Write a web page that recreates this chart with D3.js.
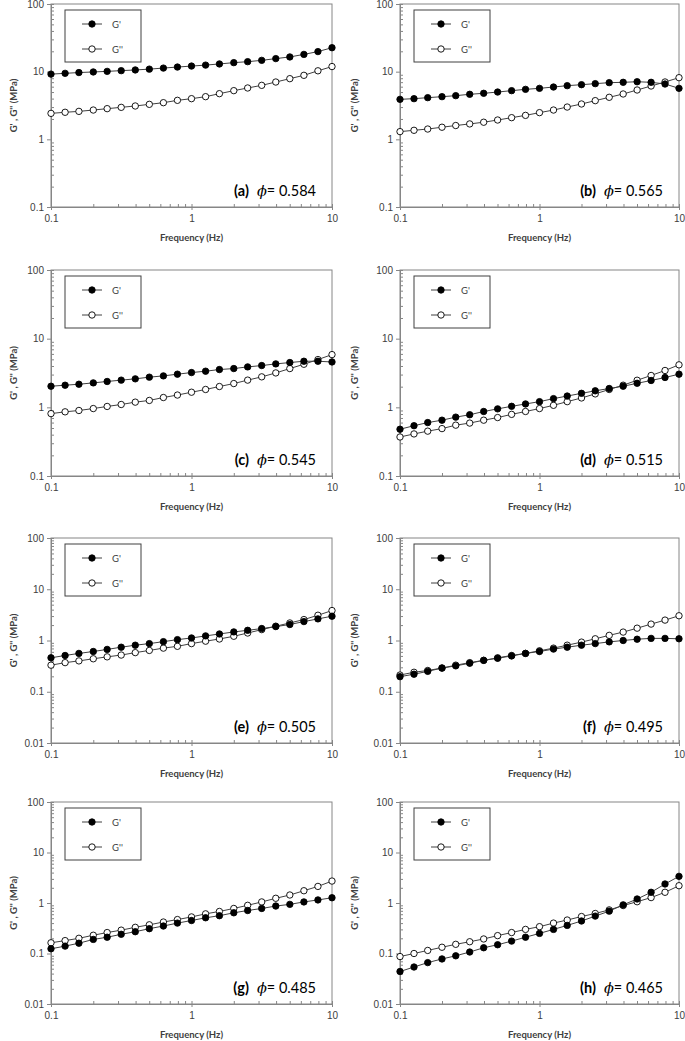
<!DOCTYPE html>
<html>
<head>
<meta charset="utf-8">
<script src="https://cdn.jsdelivr.net/npm/d3@7"></script>
<style>
  body { margin: 0; background: #fff; }
  svg { display: block; font-family: Lato, "Open Sans", sans-serif; }
</style>
</head>
<body>
<svg id="chart" width="685" height="1041"></svg>
<script>
// frequency sweep (Hz), 10 points per decade
const freq = [0.1, 0.126, 0.158, 0.2, 0.251, 0.316, 0.398, 0.501, 0.631, 0.794, 1,
              1.26, 1.58, 2, 2.51, 3.16, 3.98, 5.01, 6.31, 7.94, 10];

const gp_a  = [9.2, 9.45, 9.7, 9.9, 10.1, 10.35, 10.6, 10.9, 11.3, 11.7, 12.1, 12.5, 13.0, 13.6, 14.05, 14.7, 15.6, 16.5, 18.0, 19.8, 22.6];
const gpp_a = [2.42, 2.51, 2.59, 2.71, 2.84, 2.97, 3.11, 3.29, 3.48, 3.77, 3.99, 4.27, 4.73, 5.24, 5.74, 6.28, 7.03, 7.88, 8.83, 10.3, 11.9];

const gp_b  = [3.9, 3.99, 4.13, 4.27, 4.42, 4.63, 4.79, 5.0, 5.24, 5.48, 5.67, 5.93, 6.21, 6.42, 6.65, 6.88, 6.96, 7.1, 6.96, 6.57, 5.67];
const gpp_b = [1.30, 1.36, 1.42, 1.51, 1.60, 1.69, 1.79, 1.93, 2.09, 2.26, 2.48, 2.71, 3.00, 3.33, 3.73, 4.18, 4.68, 5.36, 6.14, 7.04, 8.15];

const gp_c  = [2.03, 2.10, 2.17, 2.27, 2.38, 2.49, 2.60, 2.75, 2.87, 3.04, 3.21, 3.36, 3.55, 3.67, 3.88, 4.06, 4.29, 4.49, 4.69, 4.69, 4.58];
const gpp_c = [0.81, 0.86, 0.90, 0.96, 1.03, 1.10, 1.19, 1.26, 1.39, 1.51, 1.66, 1.82, 2.01, 2.22, 2.49, 2.78, 3.17, 3.67, 4.24, 4.96, 5.86];

const gp_d  = [0.48, 0.54, 0.60, 0.65, 0.72, 0.78, 0.87, 0.95, 1.035, 1.12, 1.21, 1.34, 1.46, 1.60, 1.74, 1.88, 2.03, 2.24, 2.46, 2.72, 3.04];
const gpp_d = [0.37, 0.41, 0.45, 0.49, 0.55, 0.59, 0.65, 0.71, 0.79, 0.87, 0.96, 1.07, 1.21, 1.37, 1.57, 1.82, 2.10, 2.48, 2.91, 3.44, 4.16];

const gp_e  = [0.46, 0.51, 0.56, 0.61, 0.67, 0.74, 0.81, 0.87, 0.95, 1.04, 1.12, 1.23, 1.34, 1.47, 1.58, 1.71, 1.87, 2.05, 2.34, 2.64, 2.98];
const gpp_e = [0.33, 0.37, 0.40, 0.44, 0.48, 0.52, 0.58, 0.64, 0.71, 0.77, 0.87, 0.97, 1.07, 1.21, 1.40, 1.63, 1.90, 2.20, 2.56, 3.11, 3.84];

const gp_f  = [0.197, 0.22, 0.25, 0.29, 0.32, 0.36, 0.41, 0.45, 0.50, 0.56, 0.61, 0.68, 0.74, 0.81, 0.87, 0.94, 1.00, 1.06, 1.10, 1.10, 1.08];
const gpp_f = [0.212, 0.24, 0.26, 0.29, 0.33, 0.37, 0.41, 0.46, 0.51, 0.56, 0.63, 0.71, 0.81, 0.93, 1.08, 1.26, 1.46, 1.74, 2.09, 2.50, 3.04];

const gp_g  = [0.124, 0.14, 0.16, 0.19, 0.21, 0.24, 0.27, 0.31, 0.35, 0.40, 0.45, 0.51, 0.56, 0.64, 0.71, 0.78, 0.87, 0.94, 1.05, 1.15, 1.27];
const gpp_g = [0.163, 0.18, 0.20, 0.23, 0.26, 0.29, 0.33, 0.37, 0.42, 0.47, 0.53, 0.61, 0.68, 0.78, 0.90, 1.05, 1.24, 1.44, 1.75, 2.13, 2.72];

const gp_h  = [0.044, 0.054, 0.066, 0.078, 0.090, 0.107, 0.13, 0.149, 0.176, 0.21, 0.25, 0.30, 0.36, 0.44, 0.55, 0.69, 0.92, 1.20, 1.63, 2.38, 3.37];
const gpp_h = [0.087, 0.10, 0.115, 0.133, 0.152, 0.171, 0.194, 0.226, 0.26, 0.30, 0.34, 0.40, 0.46, 0.54, 0.62, 0.73, 0.89, 1.06, 1.28, 1.63, 2.2];

const panelLetters = ["a", "b", "c", "d", "e", "f", "g", "h"];
const phiValues = ["0.584", "0.565", "0.545", "0.515", "0.505", "0.495", "0.485", "0.465"];
const storage = [gp_a, gp_b, gp_c, gp_d, gp_e, gp_f, gp_g, gp_h];
const loss = [gpp_a, gpp_b, gpp_c, gpp_d, gpp_e, gpp_f, gpp_g, gpp_h];
const seriesNames = ["G'", "G''"];
const xTicks = [0.1, 1, 10];
const xTickLabels = ["0.1", "1", "10"];
const yTicksTop = [0.1, 1, 10, 100];
const yTicksBottom = [0.01, 0.1, 1, 10, 100];

// layout of the 4x2 grid
const colLeft = [51, 400];
const colWidth = [281, 279];
const colTitleX = [13, 354];
const rowTop = [4, 270, 538, 802];
const rowHeight = [203, 206, 205, 202];

const axisColor = "#868686";
const textColor = "#404040";

const svg = d3.select("#chart");

function minorTicks(lo, hi) {
  const out = [];
  for (let e = Math.round(Math.log10(lo)); e < Math.round(Math.log10(hi)); e++) {
    for (let k = 2; k <= 9; k++) out.push(k * Math.pow(10, e));
  }
  return out;
}

panelLetters.forEach((letter, i) => {
  const col = i % 2, row = Math.floor(i / 2);
  const left = colLeft[col], top = rowTop[row];
  const w = colWidth[col], h = rowHeight[row];
  const yTicks = row < 2 ? yTicksTop : yTicksBottom;
  const ydom = [yTicks[0], yTicks[yTicks.length - 1]];

  const x = d3.scaleLog().domain([0.1, 10]).range([0, w]);
  const y = d3.scaleLog().domain(ydom).range([h, 0]);

  const g = svg.append("g").attr("transform", `translate(${left},${top})`);

  // plot-area frame
  g.append("rect").attr("width", w).attr("height", h)
    .attr("fill", "none").attr("stroke", axisColor).attr("stroke-width", 1);

  // x axis: major ticks cross, minor ticks inside
  const xMajor = g.append("g").attr("transform", `translate(0,${h})`)
    .call(d3.axisBottom(x).tickValues(xTicks).tickSize(3).tickPadding(5)
      .tickFormat((d, j) => xTickLabels[j]));
  xMajor.append("g").call(d3.axisBottom(x).tickValues(xTicks).tickSize(-3).tickFormat(""));
  xMajor.append("g").call(d3.axisBottom(x).tickValues(minorTicks(0.1, 10)).tickSize(-3).tickFormat(""));

  // y axis: major ticks outside, minor ticks inside
  const yMajor = g.append("g")
    .call(d3.axisLeft(y).tickValues(yTicks).tickSize(4).tickPadding(3)
      .tickFormat(d => d3.format("~g")(d)));
  yMajor.append("g").call(d3.axisLeft(y).tickValues(minorTicks(ydom[0], ydom[1])).tickSize(-3).tickFormat(""));

  g.selectAll(".domain").attr("stroke", axisColor);
  g.selectAll(".tick line").attr("stroke", axisColor);
  g.selectAll(".tick text").attr("fill", textColor).attr("font-size", 10);

  // axis titles
  g.append("text").attr("x", w / 2).attr("y", h + 34)
    .attr("text-anchor", "middle").attr("font-size", 9.5).attr("font-weight", "bold")
    .attr("fill", textColor).text("Frequency (Hz)");
  g.append("text")
    .attr("transform", `translate(${colTitleX[col] - left},${h / 2}) rotate(-90)`)
    .attr("text-anchor", "middle").attr("dominant-baseline", "central")
    .attr("font-size", 9.5).attr("font-weight", "bold")
    .attr("fill", textColor).text("G' , G'' (MPa)");

  // series
  const line = d3.line().x((d, j) => x(freq[j])).y(d => y(d));
  [storage[i], loss[i]].forEach(vals => {
    g.append("path").datum(vals).attr("d", line)
      .attr("fill", "none").attr("stroke", "#404040").attr("stroke-width", 1);
  });
  [loss[i], storage[i]].forEach((vals, s) => {
    g.selectAll(null).data(vals).join("circle")
      .attr("cx", (d, j) => x(freq[j])).attr("cy", d => y(d)).attr("r", 3.2)
      .attr("fill", s === 1 ? "#000" : "#fff").attr("stroke", "#000").attr("stroke-width", 0.9);
  });

  // legend
  const lg = g.append("g").attr("transform", "translate(14,6)");
  lg.append("rect").attr("width", 76).attr("height", 52)
    .attr("fill", "#fff").attr("stroke", "#404040").attr("stroke-width", 1);
  seriesNames.forEach((name, s) => {
    const ly = 14 + s * 25;
    lg.append("line").attr("x1", 17).attr("x2", 37).attr("y1", ly).attr("y2", ly)
      .attr("stroke", "#404040").attr("stroke-width", 1);
    lg.append("circle").attr("cx", 27).attr("cy", ly).attr("r", 3.2)
      .attr("fill", s === 0 ? "#000" : "#fff").attr("stroke", "#000").attr("stroke-width", 0.9);
    lg.append("text").attr("x", 47).attr("y", ly + 3.5).attr("font-size", 9.5)
      .attr("fill", textColor).text(name);
  });

  // panel tag with volume fraction
  const tag = g.append("text").attr("x", w - 16).attr("y", h - 11)
    .attr("text-anchor", "end").attr("font-size", 14.5).attr("fill", "#000");
  tag.append("tspan").attr("font-weight", "bold").text(`(${letter})`);
  tag.append("tspan").attr("font-style", "italic").attr("font-family", "'DejaVu Serif', serif")
    .attr("dx", 8).text("ϕ");
  tag.append("tspan").text("= " + phiValues[i]);
});
</script>
</body>
</html>
